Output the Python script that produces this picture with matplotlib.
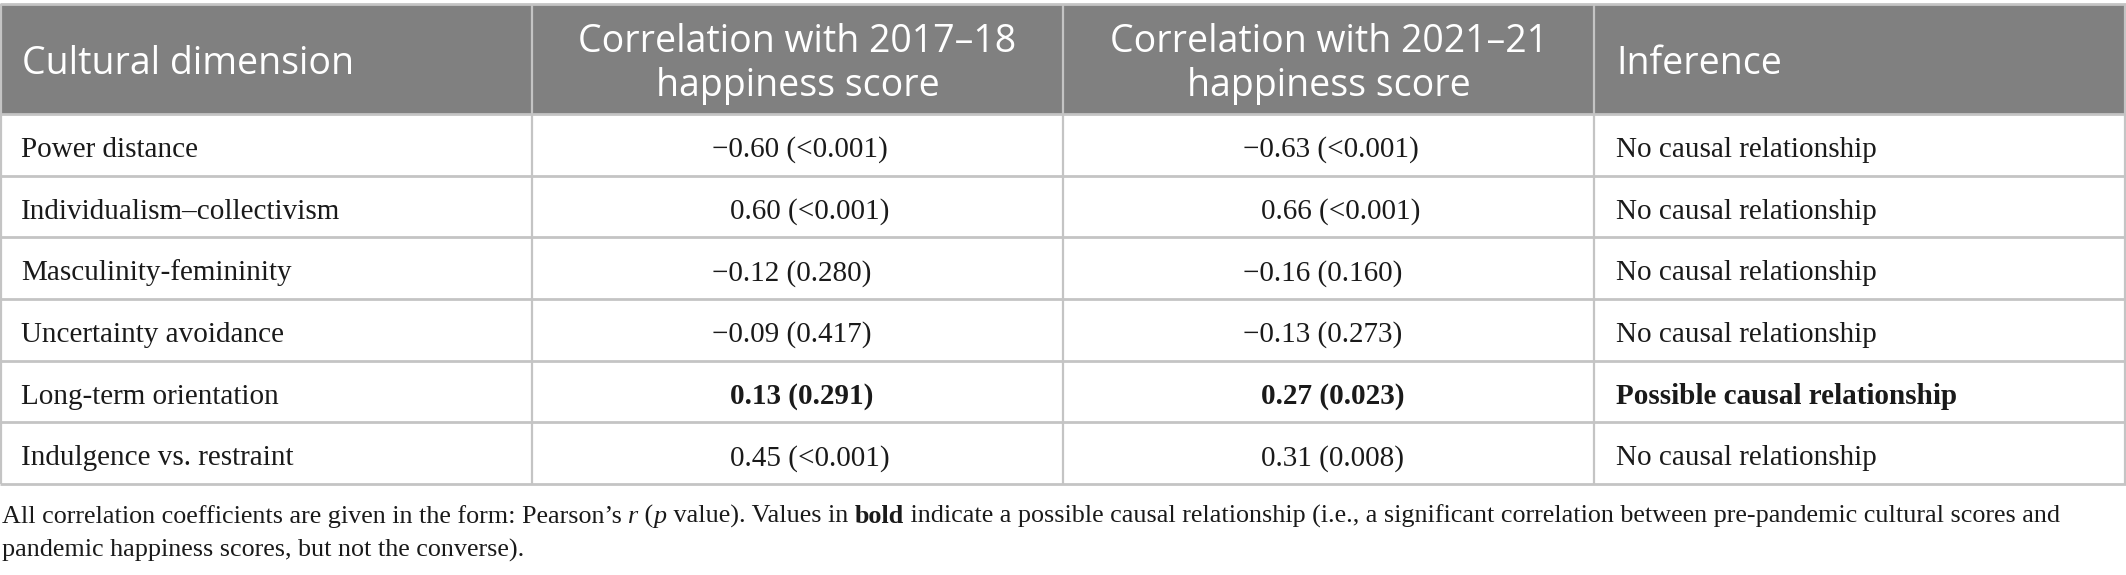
import matplotlib
matplotlib.use("Agg")
import matplotlib.pyplot as plt
from matplotlib.patches import Rectangle

# table data
basliklar = ["Cultural dimension",
             "Correlation with 2017\u201318\nhappiness score",
             "Correlation with 2021\u201321\nhappiness score",
             "Inference"]
boyutlar = ["Power distance", "Individualism\u2013collectivism", "Masculinity-femininity",
            "Uncertainty avoidance", "Long-term orientation", "Indulgence vs. restraint"]
r_1718 = [-0.60, 0.60, -0.12, -0.09, 0.13, 0.45]
p_1718 = ["<0.001", "<0.001", "0.280", "0.417", "0.291", "<0.001"]
r_2021 = [-0.63, 0.66, -0.16, -0.13, 0.27, 0.31]
p_2021 = ["<0.001", "<0.001", "0.160", "0.273", "0.023", "0.008"]
cikarim = ["No causal relationship", "No causal relationship", "No causal relationship",
           "No causal relationship", "Possible causal relationship", "No causal relationship"]
kalin = [False, False, False, False, True, False]

not_satir1 = [("All correlation coefficients are given in the form: Pearson\u2019s ", "normal", "normal"),
              ("r", "italic", "normal"),
              (" (", "normal", "normal"),
              ("p", "italic", "normal"),
              (" value). Values in ", "normal", "normal"),
              ("bold", "normal", "bold"),
              (" indicate a possible causal relationship (i.e., a significant correlation between pre-pandemic cultural scores and", "normal", "normal")]
not_satir2 = [("pandemic happiness scores, but not the converse).", "normal", "normal")]

W, H = 2126, 575
fig = plt.figure(figsize=(W / 100, H / 100), dpi=100)
ax = fig.add_axes([0, 0, 1, 1])
ax.set_xlim(0, W)
ax.set_ylim(H, 0)
ax.axis("off")

serif = "Liberation Serif"
sans = "Open Sans"
gri = "#808080"
cizgi = "#c4c4c4"
yazi = "#1a1a1a"
govde_fs = 21
not_fs = 18.8

sutun_x = [0, 532, 1063, 1594, W]
ust, baslik_alt = 4, 114
satir_h = (484 - baslik_alt) / len(boyutlar)

# header
ax.add_patch(Rectangle((0, ust), W, baslik_alt - ust, facecolor=gri, edgecolor="none"))
for i, b in enumerate(basliklar):
    yc = (ust + baslik_alt) / 2 + 5
    if i in (1, 2):
        ax.text((sutun_x[i] + sutun_x[i + 1]) / 2, yc, b, ha="center", va="center",
                color="white", fontsize=27, family=sans, linespacing=1.2)
    else:
        ax.text(sutun_x[i] + 22, yc, b, ha="left", va="center",
                color="white", fontsize=27, family=sans)


def r_metni(r, p):
    s = f"{abs(r):.2f} ({p})"
    return ("\u2212" + s) if r < 0 else s


for k in range(len(boyutlar)):
    y0 = baslik_alt + k * satir_h
    yb = y0 + 43
    fw = "bold" if kalin[k] else "normal"
    ax.text(sutun_x[0] + 21, yb, boyutlar[k], ha="left", va="baseline",
            fontsize=govde_fs, family=serif, color=yazi)
    for j, (rr, pp) in enumerate([(r_1718, p_1718), (r_2021, p_2021)]):
        x = sutun_x[j + 1] + 180
        if rr[k] >= 0:
            x += 18
        ax.text(x, yb, r_metni(rr[k], pp[k]), ha="left", va="baseline",
                fontsize=govde_fs, family=serif, color=yazi, fontweight=fw)
    ax.text(sutun_x[3] + 22, yb, cikarim[k], ha="left", va="baseline",
            fontsize=govde_fs, family=serif, color=yazi, fontweight=fw)

# grid lines
ax.plot([0, W], [ust, ust], color=cizgi, lw=2, solid_capstyle="butt")
for k in range(len(boyutlar) + 1):
    y = baslik_alt + k * satir_h
    ax.plot([0, W], [y, y], color=cizgi, lw=2, solid_capstyle="butt")
for x in sutun_x[1:-1]:
    ax.plot([x, x], [ust, 484], color=cizgi, lw=1.6, solid_capstyle="butt")
for x in (1, W - 1):
    ax.plot([x, x], [ust, 484], color=cizgi, lw=1.6, solid_capstyle="butt")

# footnote with mixed styles
fig.canvas.draw()
renderer = fig.canvas.get_renderer()


def genislik(s, style, weight):
    t1 = ax.text(0, 0, "a" + s + "a", fontsize=not_fs, family=serif, style=style, fontweight=weight)
    t2 = ax.text(0, 0, "aa", fontsize=not_fs, family=serif, style=style, fontweight=weight)
    w = t1.get_window_extent(renderer).width - t2.get_window_extent(renderer).width
    t1.remove()
    t2.remove()
    return w


def parca_yaz(x, y, parcalar):
    for s, style, weight in parcalar:
        ax.text(x, y, s, ha="left", va="baseline", fontsize=not_fs, family=serif,
                style=style, fontweight=weight, color=yazi)
        x += genislik(s, style, weight)


parca_yaz(2, 523, not_satir1)
parca_yaz(2, 557, not_satir2)

fig.savefig("out.png", dpi=100, facecolor="white")
